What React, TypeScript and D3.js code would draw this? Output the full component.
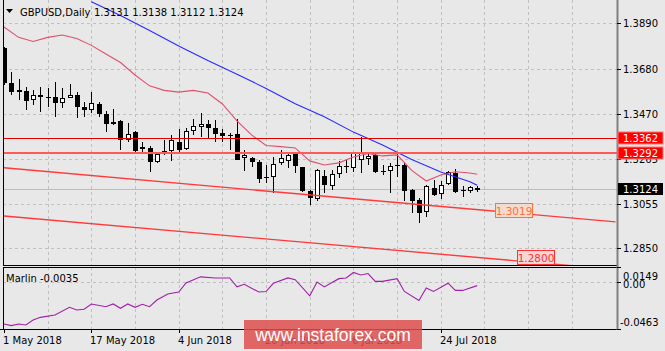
import React from 'react';
import * as d3 from 'd3';

// daily GBPUSD bars, 1 May 2018 .. 31 Jul 2018
const barOpen = [1.3776, 1.3616, 1.3582, 1.3579, 1.3536, 1.3559, 1.3548, 1.3548, 1.3520, 1.3544,
  1.3559, 1.3505, 1.3490, 1.3516, 1.3471, 1.3428, 1.3438, 1.3351, 1.3386, 1.3320,
  1.3312, 1.3246, 1.3290, 1.3300, 1.3343, 1.3311, 1.3392, 1.3412, 1.3423, 1.3408,
  1.3382, 1.3375, 1.3377, 1.3266, 1.3266, 1.3251, 1.3177, 1.3181, 1.3243, 1.3255,
  1.3289, 1.3225, 1.3115, 1.3077, 1.3185, 1.3138, 1.3192, 1.3227, 1.3220, 1.3262,
  1.3262, 1.3282, 1.3208, 1.3208, 1.3235, 1.3235, 1.3120, 1.3074, 1.3020, 1.3128,
  1.3101, 1.3148, 1.3197, 1.3121, 1.3117, 1.3131];
const barHigh = [1.3782, 1.3667, 1.3631, 1.3597, 1.3582, 1.3597, 1.3590, 1.3620, 1.3590, 1.3610,
  1.3574, 1.3528, 1.3574, 1.3528, 1.3486, 1.3494, 1.3443, 1.3428, 1.3393, 1.3343,
  1.3323, 1.3297, 1.3351, 1.3374, 1.3400, 1.3404, 1.3446, 1.3477, 1.3443, 1.3443,
  1.3400, 1.3382, 1.3446, 1.3305, 1.3274, 1.3258, 1.3235, 1.3274, 1.3305, 1.3292,
  1.3292, 1.3228, 1.3120, 1.3215, 1.3212, 1.3212, 1.3255, 1.3258, 1.3297, 1.3364,
  1.3297, 1.3289, 1.3235, 1.3243, 1.3297, 1.3251, 1.3123, 1.3081, 1.3143, 1.3166,
  1.3163, 1.3209, 1.3215, 1.3138, 1.3138, 1.3138];
const barLow = [1.3605, 1.3559, 1.3536, 1.3487, 1.3513, 1.3482, 1.3505, 1.3459, 1.3500, 1.3544,
  1.3451, 1.3456, 1.3474, 1.3456, 1.3389, 1.3420, 1.3305, 1.3343, 1.3297, 1.3297,
  1.3204, 1.3244, 1.3281, 1.3255, 1.3297, 1.3305, 1.3374, 1.3366, 1.3356, 1.3343,
  1.3343, 1.3305, 1.3258, 1.3208, 1.3228, 1.3151, 1.3151, 1.3107, 1.3235, 1.3220,
  1.3197, 1.3112, 1.3051, 1.3070, 1.3105, 1.3120, 1.3174, 1.3197, 1.3204, 1.3197,
  1.3235, 1.3197, 1.3189, 1.3105, 1.3181, 1.3070, 1.3012, 1.2966, 1.2996, 1.3092,
  1.3077, 1.3143, 1.3107, 1.3086, 1.3105, 1.3112];
const barClose = [1.3613, 1.3574, 1.3574, 1.3531, 1.3559, 1.3548, 1.3546, 1.3520, 1.3543, 1.3559,
  1.3505, 1.3490, 1.3523, 1.3471, 1.3425, 1.3435, 1.3351, 1.3379, 1.3297, 1.3311,
  1.3246, 1.3285, 1.3302, 1.3351, 1.3308, 1.3394, 1.3416, 1.3424, 1.3405, 1.3379,
  1.3369, 1.3372, 1.3258, 1.3281, 1.3246, 1.3174, 1.3179, 1.3240, 1.3266, 1.3281,
  1.3228, 1.3115, 1.3081, 1.3212, 1.3143, 1.3194, 1.3230, 1.3229, 1.3289, 1.3297,
  1.3278, 1.3204, 1.3207, 1.3231, 1.3233, 1.3115, 1.3070, 1.3015, 1.3138, 1.3097,
  1.3143, 1.3204, 1.3107, 1.3120, 1.3135, 1.3124];

// moving averages as [bar, price]
const redMA: [number, number][] = [[0, 1.3873], [2, 1.3825], [4, 1.3806], [6, 1.3825], [8, 1.3836],
  [10, 1.3820], [12, 1.3788], [14, 1.3748], [16, 1.3709], [18, 1.3651], [20, 1.3601], [22, 1.3580],
  [24, 1.3572], [26, 1.3580], [28, 1.3568], [30, 1.3517], [32, 1.3439], [34, 1.3374], [36, 1.3325],
  [38, 1.3320], [40, 1.3314], [42, 1.3254], [44, 1.3235], [46, 1.3245], [48, 1.3272], [50, 1.3288],
  [52, 1.3277], [54, 1.3282], [56, 1.3210], [58, 1.3161], [60, 1.3189], [62, 1.3204], [64, 1.3198],
  [65, 1.3192]];
const blueMA: [number, number][] = [[12, 1.3990], [16, 1.3926], [20, 1.3857], [24, 1.3785], [28, 1.3718],
  [32, 1.3655], [36, 1.3589], [40, 1.3518], [44, 1.3458], [48, 1.3387], [52, 1.3328], [56, 1.3261],
  [60, 1.3203], [64, 1.3158], [65, 1.3141]];

// Marlin oscillator as [bar, value]
const marlin: [number, number][] = [[0, -0.0414], [1, -0.0430], [2, -0.0414], [3, -0.0424], [4, -0.0374],
  [5, -0.0348], [7, -0.0325], [9, -0.0249], [10, -0.0275], [11, -0.0268], [12, -0.0216], [14, -0.0243],
  [15, -0.0216], [16, -0.0259], [17, -0.0216], [18, -0.0249], [19, -0.0219], [20, -0.0243],
  [21, -0.0177], [22.5, -0.0118], [24, -0.0098], [25, -0.0009], [27, 0.0052], [29, 0.0041],
  [31, 0.0041], [32, -0.0047], [33, -0.0022], [35, -0.0098], [36, -0.0093], [37, -0.0012],
  [39, 0.0041], [40, 0.0024], [42, -0.0135], [43, 0.0001], [44, -0.0047], [46, 0.0034], [47, 0.0041],
  [48, 0.0095], [49, 0.0070], [50, 0.0084], [51, 0.0007], [52, 0.0007], [54, 0.0034], [55, -0.0092],
  [57, -0.0181], [58, -0.0058], [59, -0.0092], [61, -0.0011], [62, -0.0082], [63, -0.0082], [65, -0.0035]];

// trendlines: [bar, price] at both ends
const upperTrend: [number, number][] = [[0, 1.3222], [84, 1.2972]];
const lowerTrend: [number, number][] = [[0, 1.2999], [84, 1.2752]];
const levelLines = [1.3362, 1.3292];
const textLabels = [
  { text: '1.3019', bar: 67.4, price: 1.3060, color: '#ff7040', fill: '#f3dccd' },
  { text: '1.2800', bar: 70.5, price: 1.2842, color: '#ff3030', fill: '#f6d6d6' },
];

const priceTicks = [1.3890, 1.3680, 1.3470, 1.3265, 1.3055, 1.2850];
const marlinTicks = [0.0149, 0.0, -0.0463];
const marlinTickText = ['0.0149', '0.00', '-0.0463'];
const dateBars = [0, 12, 24, 36, 48, 60];
const dateLabels = ['1 May 2018', '17 May 2018', '4 Jun 2018', '20 Jun 2018', '6 Jul 2018', '24 Jul 2018'];

const W = 665;
const H = 351;
const left = 3;
const right = 617;
const mainTop = 0;
const mainBottom = 265;
const subTop = 267;
const subBottom = 329;
const font = 'DejaVu Sans, Tahoma, sans-serif';
const bg = '#e8e8e8';
const grid = '#c0c0c0';

const x = d3.scaleLinear().domain([0, 84]).range([4, 4 + 84 * 7.28]);
const y = d3.scaleLinear().domain([1.2850, 1.3890]).range([248.3, 23.3]);
const ym = d3.scaleLinear().domain([-0.0463, 0.0149]).range([subBottom, subTop]);

const App: React.FC = () => {
  const priceLine = d3.line<[number, number]>().x(d => x(d[0])).y(d => y(d[1]));
  const marlinLine = d3.line<[number, number]>().x(d => x(d[0])).y(d => ym(d[1]));
  const gridBars = d3.range(6, 84, 6);
  const last = barClose[barClose.length - 1];

  return (
    <svg width={W} height={H} style={{ position: 'absolute', left: 0, top: 0 }} fontFamily={font}>
      <defs>
        <clipPath id="mainClip"><rect x={left} y={mainTop} width={right - left} height={mainBottom - mainTop} /></clipPath>
        <clipPath id="subClip"><rect x={left} y={subTop} width={right - left} height={subBottom - subTop} /></clipPath>
      </defs>
      <rect width={W} height={H} fill={bg} />

      {/* grid */}
      {gridBars.map(b => (
        <g key={b}>
          <line x1={Math.round(x(b)) + 0.5} x2={Math.round(x(b)) + 0.5} y1={mainTop} y2={mainBottom} stroke={grid} strokeDasharray="3,3" />
          <line x1={Math.round(x(b)) + 0.5} x2={Math.round(x(b)) + 0.5} y1={subTop} y2={subBottom} stroke={grid} strokeDasharray="3,3" />
        </g>
      ))}
      {priceTicks.map(p => (
        <line key={p} x1={left} x2={right} y1={Math.round(y(p)) + 0.5} y2={Math.round(y(p)) + 0.5} stroke={grid} strokeDasharray="3,3" />
      ))}
      <line x1={left} x2={right} y1={Math.round(ym(0)) + 0.5} y2={Math.round(ym(0)) + 0.5} stroke={grid} strokeDasharray="3,3" />

      {/* bid line */}
      <line x1={left} x2={right} y1={Math.round(y(last)) + 0.5} y2={Math.round(y(last)) + 0.5} stroke="#bdbdbd" />

      {/* candles */}
      <g clipPath="url(#mainClip)">
        {barOpen.map((o, i) => {
          const c = barClose[i];
          const cx = Math.round(x(i));
          const yo = y(o);
          const yc = y(c);
          const top = Math.round(Math.min(yo, yc));
          const h = Math.max(1, Math.round(Math.abs(yo - yc)));
          return (
            <g key={i}>
              <line x1={cx + 0.5} x2={cx + 0.5} y1={Math.round(y(barHigh[i]))} y2={Math.round(y(barLow[i]))} stroke="#000" />
              {h <= 1 ? (
                <line x1={cx - 2} x2={cx + 3} y1={top + 0.5} y2={top + 0.5} stroke="#000" />
              ) : c < o ? (
                <rect x={cx - 2} y={top} width={5} height={h} fill="#000" />
              ) : (
                <rect x={cx - 1.5} y={top + 0.5} width={4} height={h - 1} fill="#fff" stroke="#000" />
              )}
            </g>
          );
        })}
        <path d={priceLine(redMA) || ''} fill="none" stroke="#e0506e" strokeWidth={1.1} />
        <path d={priceLine(blueMA) || ''} fill="none" stroke="#2a2aff" strokeWidth={1.1} />
        <path d={priceLine(upperTrend) || ''} fill="none" stroke="#ff3a3a" strokeWidth={1.4} />
        <path d={priceLine(lowerTrend) || ''} fill="none" stroke="#ff3a3a" strokeWidth={1.4} />
        <line x1={left} x2={right} y1={Math.round(y(levelLines[0])) + 0.5} y2={Math.round(y(levelLines[0])) + 0.5} stroke="#e00000" />
        <line x1={left} x2={right} y1={Math.round(y(levelLines[1]))} y2={Math.round(y(levelLines[1]))} stroke="#ff5a5a" strokeWidth={2} />
        {textLabels.map(l => (
          <g key={l.text}>
            <rect x={Math.round(x(l.bar)) + 0.5} y={Math.round(y(l.price)) + 0.5} width={37} height={14} fill={l.fill} stroke={l.color} />
            <text x={Math.round(x(l.bar)) + 19} y={Math.round(y(l.price)) + 11.5} fontSize={10.5} fill={l.color} textAnchor="middle">{l.text}</text>
          </g>
        ))}
      </g>

      {/* marlin */}
      <g clipPath="url(#subClip)">
        <path d={marlinLine(marlin) || ''} fill="none" stroke="#a020a8" strokeWidth={1.1} />
      </g>
      <text x={6} y={282} fontSize={10} fill="#000">Marlin -0.0035</text>

      {/* title */}
      <path d="M6,9 L13,9 L9.5,13 Z" fill="#000" />
      <text x={20} y={16} fontSize={10} fill="#000">GBPUSD,Daily</text>
      <text x={94} y={16} fontSize={10} fill="#000">{[barOpen, barHigh, barLow, barClose].map(a => a[a.length - 1].toFixed(4)).join(' ')}</text>

      {/* frames */}
      <line x1={left + 0.5} x2={left + 0.5} y1={mainTop} y2={mainBottom} stroke="#000" />
      <line x1={left + 0.5} x2={left + 0.5} y1={subTop} y2={subBottom} stroke="#000" />
      <line x1={left} x2={right} y1={mainBottom + 0.5} y2={mainBottom + 0.5} stroke="#000" />
      <line x1={left} x2={right} y1={subTop + 0.5} y2={subTop + 0.5} stroke="#000" />
      <line x1={0} x2={right + 1} y1={subBottom + 0.5} y2={subBottom + 0.5} stroke="#000" />
      <line x1={right + 0.5} x2={right + 0.5} y1={mainTop} y2={subBottom + 1} stroke="#808080" strokeWidth={2} />

      {/* price axis */}
      {priceTicks.map((p, i) => (
        <g key={p}>
          <line x1={right} x2={right + 4} y1={Math.round(y(p)) + 0.5} y2={Math.round(y(p)) + 0.5} stroke="#000" />
          <text x={623} y={y(p) + 4} fontSize={10} fill="#000">{priceTicks[i].toFixed(4)}</text>
        </g>
      ))}
      {levelLines.map(p => (
        <g key={p}>
          <rect x={618} y={Math.round(y(p)) - 6} width={45} height={12} fill="#ff0000" stroke="#ff7070" />
          <text x={623} y={Math.round(y(p)) + 4} fontSize={10} fill="#fff">{p.toFixed(4)}</text>
        </g>
      ))}
      <rect x={618} y={Math.round(y(last)) - 6} width={45} height={12} fill="#000" />
      <text x={623} y={Math.round(y(last)) + 4} fontSize={10} fill="#fff">{last.toFixed(4)}</text>

      {marlinTicks.map((v, i) => (
        <g key={v}>
          <line x1={right} x2={right + 4} y1={Math.round(ym(v)) + 0.5} y2={Math.round(ym(v)) + 0.5} stroke="#000" />
          <text x={i === 2 ? 620 : 623} y={i === 0 ? 280 : i === 1 ? 288 : 326} fontSize={10} fill="#000">{marlinTickText[i]}</text>
        </g>
      ))}

      {/* date axis */}
      {dateBars.map((b, i) => (
        <g key={b}>
          <line x1={Math.round(x(b)) + 0.5} x2={Math.round(x(b)) + 0.5} y1={subBottom} y2={subBottom + 4} stroke="#000" />
          <text x={Math.round(x(b)) - 1} y={344} fontSize={10} fill="#000">{dateLabels[i]}</text>
        </g>
      ))}

      {/* watermark */}
      <rect x={244} y={320} width={178} height={29} fill="rgb(222,78,78)" fillOpacity={0.85} />
      <text x={333} y={341} fontSize={17.5} fill="#fff" textAnchor="middle" fontFamily="Liberation Sans, Arial, sans-serif">www.instaforex.com</text>
    </svg>
  );
};

export default App;
